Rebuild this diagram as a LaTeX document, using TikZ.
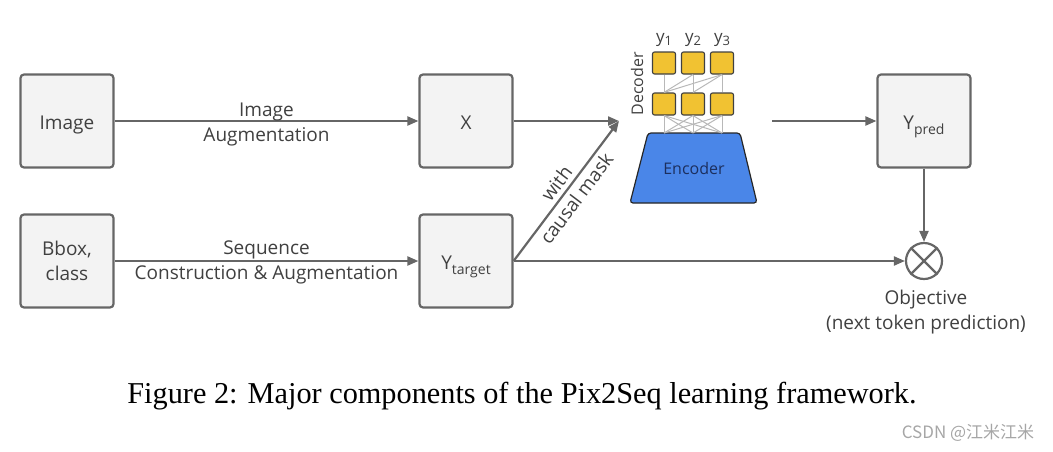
\documentclass[tikz,border=0pt]{standalone}
\usepackage{fontspec}
\setmainfont{Liberation Serif}
\newfontfamily\osans{Open Sans}
\newfontfamily\cjkf{Noto Sans CJK SC}
\usetikzlibrary{arrows.meta}
\definecolor{edge}{HTML}{666666}
\definecolor{boxfill}{HTML}{F3F3F3}
\definecolor{tok}{HTML}{F1C232}
\definecolor{enc}{HTML}{4A86E8}
\definecolor{enctext}{HTML}{1C2F5E}
\definecolor{txt}{HTML}{404040}
\tikzset{
  blk/.style={draw=edge, fill=boxfill, line width=2.2pt, rounded corners=3.5pt,
    minimum width=93pt, minimum height=93pt, inner sep=0pt, align=center,
    text=txt, font=\osans\fontsize{19}{25}\selectfont},
  blkone/.style={blk, text height=16pt, text depth=0pt},
  arr/.style={draw=edge, line width=2.2pt, -{Triangle[length=11pt,width=9pt]}},
  lbl/.style={text=txt, align=center, font=\osans\fontsize{19}{25}\selectfont, inner sep=0pt},
  tokbox/.style={draw=black!75, fill=tok, line width=1.1pt, rounded corners=2pt,
    minimum width=23pt, minimum height=22pt, inner sep=0pt},
  wire/.style={draw=black!28, line width=1pt},
}
\newcommand{\sub}[1]{{\fontsize{14}{14}\selectfont\raisebox{-5pt}{#1}}}
\begin{document}
\begin{tikzpicture}[x=1pt,y=-1pt]
\useasboundingbox (0,0) rectangle (1053,451);
% main boxes
\node[blkone] (img) at (67,121) {Image};
\node[blk] (bbox) at (67,261) {Bbox,\\class};
\node[blkone] (x) at (466,121) {X};
\node[blkone] (yt) at (466,261) {Y\sub{target}};
\node[blkone] (yp) at (924,121) {Y\sub{pred}};
% objective
\node[draw=edge, line width=2.2pt, circle, minimum size=36pt, inner sep=0pt] (obj) at (924,261) {};
\draw[draw=edge, line width=2.2pt] (obj.north west) -- (obj.south east) (obj.north east) -- (obj.south west);
\node[lbl, anchor=north] (objl) at (926,290) {Objective\\(next token prediction)};
% model
\coordinate (decin) at (619,121);
\coordinate (encout) at (772,121);
\path[draw=black!85, fill=enc, line width=1.2pt, rounded corners=3pt]
  (648,133) -- (740,133) -- (757,203) -- (630,203) -- cycle;
\node[text=enctext, font=\osans\fontsize{16}{18}\selectfont] (enc) at (694,168) {Encoder};
\foreach \i/\xx in {1/664,2/693,3/722}{
  \node[tokbox] (t\i) at (\xx,63) {};
  \node[tokbox] (b\i) at (\xx,104) {};
  \coordinate (e\i) at (\xx,133);
  \node[text=txt, font=\osans\fontsize{17}{17}\selectfont, inner sep=0pt] (ylab\i) at (\xx,40) {y\sub{\fontsize{13}{13}\selectfont\raisebox{2pt}{\i}}};
}
\node[rotate=90, text=txt, font=\osans\fontsize{16}{16}\selectfont, inner sep=0pt] (declab) at (637,84) {Decoder};
% decoder wires
\foreach \i in {1,2,3}{ \draw[wire] (t\i.south) -- (b\i.north); }
\draw[wire] (t2.south) -- (b1.north);
\draw[wire] (t3.south) -- (b1.north);
\draw[wire] (t3.south) -- (b2.north);
\foreach \i in {1,2,3}{ \foreach \j in {1,2,3}{ \draw[wire] (b\i.south) -- (e\j); } }
% arrows
\draw[arr] (img.east) -- (x.west) node[lbl, midway, yshift=-3pt] {Image\\Augmentation};
\draw[arr] (bbox.east) -- (yt.west) node[lbl, midway, yshift=-1.5pt] {Sequence\\Construction \& Augmentation};
\draw[arr] (x.east) -- (decin);
\draw[arr] (yt.east) -- (decin) node[lbl, midway, sloped] {with\\causal mask};
\draw[arr] (encout) -- (yp.west);
\draw[arr] (yt.east) -- (obj.west);
\draw[arr] (yp.south) -- (obj.north);
% caption
\node[font=\fontsize{30.3}{32}\selectfont, inner sep=0pt] (cap) at (522,396) {Figure 2: Major components of the Pix2Seq learning framework.};
\node[text=black!35, font=\cjkf\fontsize{17}{17}\selectfont, inner sep=0pt] (wm) at (968,433) {CSDN @江米江米};
\end{tikzpicture}
\end{document}
